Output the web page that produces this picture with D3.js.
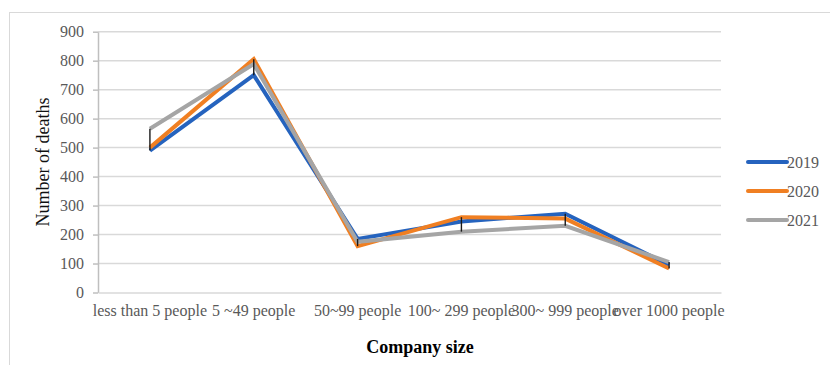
<!DOCTYPE html>
<html>
<head>
<meta charset="utf-8">
<script src="https://cdn.jsdelivr.net/npm/d3@7"></script>
<style>
  html, body { margin: 0; padding: 0; background: #fff; }
  svg { display: block; }
  svg text { font-family: "Liberation Serif", "DejaVu Serif", serif !important; }
</style>
</head>
<body>
<svg id="chart" width="830" height="365"></svg>
<script>
// Deaths by company size, one series per year
const categories = ["less than 5 people", "5 ~49 people", "50~99 people", "100~ 299 people", "300~ 999 people", "over 1000 people"];
const years = ["2019", "2020", "2021"];
const deaths2019 = [490, 750, 185, 245, 272, 95];
const deaths2020 = [500, 805, 160, 260, 255, 83];
const deaths2021 = [565, 788, 175, 210, 230, 105];
const yTicks = [0, 100, 200, 300, 400, 500, 600, 700, 800, 900];
const colors = ["#2563be", "#f07f22", "#a5a5a5"];

const seriesValues = [deaths2019, deaths2020, deaths2021];
const series = years.map((y, i) => ({ year: y, values: seriesValues[i], color: colors[i] }));

const svg = d3.select("#chart");

// outer chart frame
svg.append("rect")
  .attr("x", 9.5).attr("y", 12.5)
  .attr("width", 840).attr("height", 370)
  .attr("fill", "none").attr("stroke", "#d9d9d9").attr("stroke-width", 1);

const plot = { left: 98, right: 721, top: 31.7, bottom: 292.5 };

const x = d3.scaleBand().domain(categories).range([plot.left, plot.right]);
const y = d3.scaleLinear().domain([0, 900]).range([plot.bottom, plot.top]);
const cx = c => x(c) + x.bandwidth() / 2;

// horizontal gridlines
svg.append("g").selectAll("line")
  .data(yTicks.filter(t => t > 0))
  .join("line")
  .attr("x1", plot.left).attr("x2", plot.right)
  .attr("y1", d => y(d)).attr("y2", d => y(d))
  .attr("stroke", "#d9d9d9").attr("stroke-width", 1.5);

// y axis
const yAxis = svg.append("g")
  .attr("transform", `translate(${plot.left},0)`)
  .call(d3.axisLeft(y).tickValues(yTicks).tickSize(5).tickPadding(9).tickSizeOuter(0));
yAxis.select(".domain").attr("stroke", "#bfbfbf").attr("stroke-width", 1.5);
yAxis.selectAll(".tick line").attr("stroke", "#bfbfbf").attr("stroke-width", 1.5);
yAxis.selectAll(".tick text")
  .attr("fill", "#595959").style("font-size", "16px");

// x axis baseline and labels
const xAxis = svg.append("g")
  .attr("transform", `translate(0,${plot.bottom})`)
  .call(d3.axisBottom(x).tickSize(0).tickPadding(12));
xAxis.select(".domain").attr("stroke", "#d9d9d9").attr("stroke-width", 1.5);
xAxis.selectAll(".tick text")
  .attr("fill", "#595959").style("font-size", "16px");

// series lines
const line = d3.line()
  .x((d, i) => cx(categories[i]))
  .y(d => y(d));

svg.append("g").selectAll("path")
  .data(series)
  .join("path")
  .attr("d", d => line(d.values))
  .attr("fill", "none")
  .attr("stroke", d => d.color)
  .attr("stroke-width", 4)
  .attr("stroke-linejoin", "miter");

// high-low lines per category
svg.append("g").selectAll("line")
  .data(categories)
  .join("line")
  .attr("x1", c => cx(c)).attr("x2", c => cx(c))
  .attr("y1", (c, i) => y(d3.max(seriesValues, s => s[i])))
  .attr("y2", (c, i) => y(d3.min(seriesValues, s => s[i])))
  .attr("stroke", "#1a1a1a").attr("stroke-width", 1.4);

// axis titles
svg.append("text")
  .attr("transform", "translate(49,162) rotate(-90)")
  .attr("text-anchor", "middle")
  .style("font-size", "18px")
  .attr("fill", "#111")
  .text("Number of deaths");

svg.append("text")
  .attr("x", 420).attr("y", 353)
  .attr("text-anchor", "middle")
  .style("font-size", "18px").style("font-weight", "bold")
  .attr("fill", "#000")
  .text("Company size");

// legend
const legend = svg.append("g").selectAll("g")
  .data(series)
  .join("g")
  .attr("transform", (d, i) => `translate(748,${162 + i * 29})`);
legend.append("line")
  .attr("x1", 0).attr("x2", 39).attr("y1", 0).attr("y2", 0)
  .attr("stroke", d => d.color).attr("stroke-width", 4).attr("stroke-linecap", "round");
legend.append("text")
  .attr("x", 39).attr("y", 6)
  .attr("fill", "#595959")
  .style("font-size", "16px")
  .text(d => d.year);
</script>
</body>
</html>
